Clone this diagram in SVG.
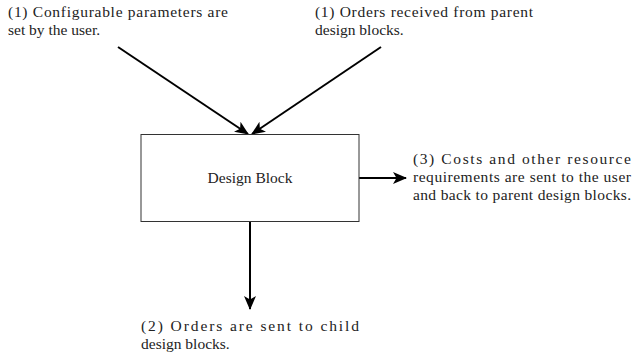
<svg xmlns="http://www.w3.org/2000/svg" width="632" height="356" viewBox="0 0 632 356">
  <style>
    text { font-family: "Liberation Serif", "Times New Roman", serif; font-size: 15.5px; fill: #222; }
    .edge { stroke: #000; stroke-width: 2; fill: none; marker-end: url(#head); }
    .box { fill: #fff; stroke: #333; stroke-width: 1; }
  </style>
  <defs>
    <marker id="head" viewBox="0 0 14 12" refX="13" refY="6" markerWidth="14" markerHeight="12" markerUnits="userSpaceOnUse" orient="auto">
      <path d="M0,0 L14,6 L0,12 L3.5,6 Z" fill="#000"/>
    </marker>
  </defs>
  <rect width="632" height="356" fill="#fff"/>

  <g id="connectors">
    <line class="edge" x1="118" y1="47" x2="248" y2="134"/>
    <line class="edge" x1="381" y1="47" x2="252" y2="134"/>
    <line class="edge" x1="359" y1="178" x2="406" y2="178"/>
    <line class="edge" x1="250" y1="221.5" x2="250" y2="309"/>
  </g>

  <g id="design-block">
    <rect class="box" x="141" y="134.5" width="218" height="87"/>
    <text x="250" y="183" text-anchor="middle">Design Block</text>
  </g>

  <g id="label-parameters">
    <text x="8" y="17" textLength="220" lengthAdjust="spacing">(1) Configurable parameters are</text>
    <text x="8" y="35">set by the user.</text>
  </g>

  <g id="label-orders-received">
    <text x="315" y="17" textLength="218" lengthAdjust="spacing">(1) Orders received from parent</text>
    <text x="315" y="35">design blocks.</text>
  </g>

  <g id="label-costs">
    <text x="413" y="164" textLength="218" lengthAdjust="spacing">(3) Costs and other resource</text>
    <text x="413" y="182" textLength="218" lengthAdjust="spacing">requirements are sent to the user</text>
    <text x="413" y="200" textLength="218" lengthAdjust="spacing">and back to parent design blocks.</text>
  </g>

  <g id="label-orders-sent">
    <text x="141" y="331" textLength="218" lengthAdjust="spacing">(2) Orders are sent to child</text>
    <text x="141" y="349">design blocks.</text>
  </g>
</svg>
